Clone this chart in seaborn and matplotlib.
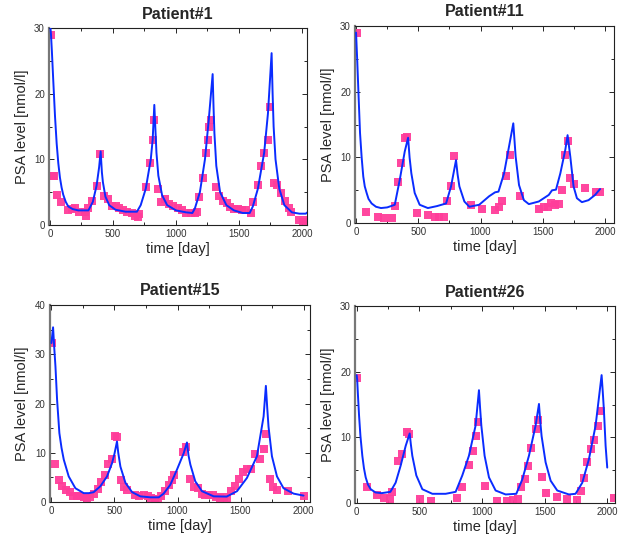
import matplotlib
matplotlib.use("Agg")
import matplotlib.pyplot as plt
from matplotlib.ticker import MultipleLocator
import seaborn as sns
import pandas as pd

# ---- Patient#1 ----
p1_day = [5, 20, 35, 58, 87, 145, 172, 198, 230, 278, 286, 304, 336, 370, 397,
          428, 458, 489, 521, 548, 577, 608, 648, 675, 698, 709, 759, 794, 815, 825,
          854, 881, 913, 947, 979, 1013, 1045, 1079, 1116, 1151, 1164, 1185, 1217,
          1238, 1257, 1265, 1275, 1315, 1344, 1370, 1402, 1429, 1463, 1489, 1521,
          1553, 1593, 1614, 1648, 1675, 1701, 1728, 1746, 1778, 1804, 1833, 1865,
          1897, 1913, 1976, 2011, 2037]
p1_psa = [29.0, 7.4, 7.4, 4.6, 3.5, 2.3, 2.4, 2.5, 1.9, 2.0, 1.3, 2.5, 3.7, 5.9, 10.8,
          4.4, 3.9, 2.9, 2.8, 2.6, 2.3, 1.9, 1.8, 1.4, 1.2, 1.6, 5.7, 9.4, 13.0, 16.0,
          5.4, 3.5, 3.9, 3.2, 2.8, 2.6, 2.2, 1.8, 1.8, 1.8, 2.0, 4.2, 7.1,
          11.0, 13.0, 15.0, 16.0, 5.8, 4.4, 3.6, 3.3, 2.7, 2.4, 2.4, 2.3,
          2.2, 1.8, 3.5, 6.0, 9.0, 11.0, 13.0, 18.0, 6.4, 6.0, 4.8, 3.7,
          2.5, 1.9, 0.8, 0.5, 0.8]
p1_fit_day = [0, 8, 15, 26, 40, 53, 66, 79, 92, 105, 125, 145, 180, 225, 305, 340, 370,
              390, 402, 412, 420, 440, 470, 520, 600, 690, 720, 760, 800, 815, 828, 838,
              845, 860, 890, 930, 1000, 1080, 1130, 1150, 1190, 1230, 1260, 1291,
              1298, 1305, 1320, 1350, 1400, 1460, 1530, 1585, 1610, 1650, 1700, 1730,
              1759, 1767, 1775, 1790, 1820, 1860, 1920, 1980, 2030, 2050]
p1_fit_psa = [31.0, 29.0, 26.5, 22.0, 16.5, 12.4, 9.4, 7.2, 5.7, 4.6, 3.5, 2.8, 2.4, 2.2,
              2.2, 3.5, 6.0, 8.8, 11.2, 8.0, 6.5, 4.3, 3.0, 2.3, 2.0, 2.0, 3.0, 5.5, 10.0,
              13.0, 18.3, 14.0, 11.0, 7.5, 4.5, 3.0, 2.2, 1.9, 1.8, 2.5, 5.0, 10.0, 16.0,
              23.0, 18.0, 14.0, 9.0, 5.0, 3.0, 2.2, 1.8, 1.8, 2.8, 5.5, 11.0, 17.0,
              26.2, 20.0, 15.0, 10.0, 5.5, 3.0, 1.9, 1.7, 1.7, 2.0]

# ---- Patient#11 ----
p11_day = [5, 80, 173, 226, 285, 311, 338, 364, 396, 412, 492, 577, 638, 670, 705,
           731, 763, 790, 923, 1008, 1117, 1149, 1176, 1202, 1234, 1316, 1468, 1508,
           1540, 1569, 1596, 1628, 1654, 1681, 1699, 1721, 1753, 1835, 1928, 1960]
p11_psa = [28.9, 1.7, 1.0, 0.8, 0.8, 2.6, 6.2, 9.1, 12.9, 13.1, 1.5, 1.2, 0.9, 0.9, 1.0,
           3.3, 5.7, 10.2, 2.8, 2.2, 2.0, 2.4, 3.3, 7.2, 10.4, 4.1, 2.2, 2.4,
           2.5, 3.0, 2.8, 2.9, 5.1, 10.4, 12.5, 6.8, 6.0, 5.3, 4.7, 4.7]
p11_fit_day = [0, 10, 21, 32, 45, 58, 70, 85, 100, 125, 160, 200, 250, 311, 351, 391,
               418, 430, 444, 471, 511, 577, 650, 723, 763, 803, 815, 830, 870, 910, 989,
               1069, 1117, 1144, 1189, 1229, 1263, 1282, 1309, 1348, 1388, 1468, 1548,
               1574, 1606, 1641, 1681, 1699, 1721, 1747, 1774, 1814, 1867, 1920, 1960]
p11_fit_psa = [29.0, 24.5, 19.0, 13.7, 10.0, 7.1, 5.6, 4.6, 3.7, 3.0, 2.5, 2.3, 2.4, 2.8,
               6.6, 10.9, 13.0, 10.0, 7.6, 4.6, 2.8, 2.3, 2.6, 3.0, 5.6, 9.6, 7.5, 5.6,
               3.3, 2.5, 2.8, 4.1, 4.7, 4.8, 7.6, 11.7, 15.2, 10.1, 5.8, 3.5, 2.9, 3.3,
               4.3, 5.0, 5.1, 7.6, 11.2, 13.4, 10.1, 5.6, 3.8, 3.2, 3.5, 4.3, 5.2]

# ---- Patient#15 ----
p15_day = [5, 32, 58, 87, 116, 145, 172, 201, 230, 256, 283, 309, 338, 367, 396, 423,
           452, 481, 507, 520, 550, 573, 602, 666, 698, 732, 764, 790, 819, 843, 872,
           901, 930, 956, 975, 1044, 1070, 1102, 1133, 1162, 1192, 1221, 1250, 1279,
           1308, 1337, 1366, 1392, 1424, 1453, 1485, 1516, 1551, 1585, 1617, 1657,
           1683, 1701, 1731, 1757, 1789, 1873, 2005]
p15_psa = [32.4, 7.8, 4.4, 3.2, 2.5, 2.0, 1.15, 1.3, 1.15, 0.95, 0.8, 0.95, 1.7, 2.7, 4.1, 5.5,
           7.8, 8.7, 13.5, 13.2, 4.4, 3.0, 2.4, 1.35, 1.3, 1.35, 1.15, 0.8, 0.7, 0.7, 1.3,
           2.2, 3.5, 4.5, 5.5, 10.1, 11.1, 4.7, 3.0, 2.8, 1.7, 1.5, 1.35, 1.5,
           0.95, 0.8, 0.95, 0.7, 2.3, 3.2, 4.7, 6.0, 6.7, 6.8, 9.8, 8.7,
           10.8, 13.9, 4.7, 3.0, 2.5, 2.2, 1.15]
p15_fit_day = [0, 13, 22, 32, 45, 63, 80, 98, 137, 190, 256, 296, 335, 388, 441, 481,
               500, 520, 530, 547, 587, 640, 705, 785, 851, 890, 943, 996, 1049, 1075,
               1087, 1102, 1141, 1194, 1287, 1390, 1472, 1551, 1630, 1683, 1701, 1712,
               1722, 1749, 1789, 1841, 1921, 2000]
p15_fit_psa = [32.3, 35.5, 31.5, 27.5, 20.7, 14.0, 11.0, 8.6, 5.2, 2.8, 1.8, 1.8, 2.0,
               3.2, 5.2, 7.9, 9.8, 12.3, 10.0, 7.2, 3.9, 2.0, 1.15, 0.95, 0.95, 1.7,
               3.5, 6.6, 9.9, 12.1, 9.5, 7.6, 4.2, 2.2, 1.15, 1.1, 2.2, 4.9, 9.3,
               17.4, 23.6, 19.0, 15.3, 9.3, 5.2, 2.8, 1.7, 1.3]

# ---- Patient#26 ----
p26_day = [5, 85, 165, 218, 263, 285, 332, 359, 399, 418, 505, 596, 803, 843, 896, 928,
           955, 971, 1021, 1117, 1202, 1250, 1287, 1314, 1340, 1370, 1394, 1428, 1450,
           1481, 1508, 1596, 1676, 1755, 1787, 1814, 1840, 1867, 1894, 1926, 1947, 2055]
p26_psa = [19.0, 2.5, 1.2, 0.75, 0.6, 1.6, 6.4, 7.5, 10.8, 10.5, 0.6, 0.25, 0.75, 2.5, 5.8, 8.0,
           10.2, 12.4, 2.6, 0.35, 0.25, 0.5, 0.6, 2.5, 3.6, 5.7, 8.4, 11.3, 12.7,
           4.0, 1.5, 0.85, 0.6, 0.5, 1.8, 3.8, 6.2, 8.2, 9.6, 11.8, 14.0, 0.8]
p26_fit_day = [0, 4, 10, 19, 30, 45, 58, 72, 90, 112, 150, 200, 269, 311, 351, 391, 423,
               432, 444, 476, 524, 604, 710, 790, 843, 896, 949, 976, 985, 995, 1021,
               1056, 1109, 1189, 1274, 1322, 1375, 1428, 1455, 1465, 1476, 1508, 1548,
               1601, 1694, 1747, 1801, 1854, 1907, 1955, 1964, 1973, 1987, 2000]
p26_fit_psa = [19.5, 18.8, 16.5, 13.3, 10.2, 7.2, 5.3, 3.9, 2.8, 2.1, 1.6, 1.5, 1.7, 3.1,
               5.7, 8.7, 10.6, 9.0, 7.2, 4.2, 2.1, 1.4, 1.4, 1.7, 4.2, 7.2, 11.8, 17.2,
               14.5, 11.8, 7.2, 3.9, 1.9, 1.3, 1.4, 3.6, 7.2, 11.8, 15.1, 12.5, 10.2, 6.2,
               3.4, 1.9, 1.3, 1.4, 3.1, 6.7, 11.8, 19.5, 17.0, 14.3, 8.7, 5.4]

titles = ["Patient#1", "Patient#11", "Patient#15", "Patient#26"]
data_days = [p1_day, p11_day, p15_day, p26_day]
data_psa = [p1_psa, p11_psa, p15_psa, p26_psa]
fit_days = [p1_fit_day, p11_fit_day, p15_fit_day, p26_fit_day]
fit_psa = [p1_fit_psa, p11_fit_psa, p15_fit_psa, p26_fit_psa]
y_max = [30, 30, 40, 30]
x_lims = [(-8, 2040), (-8, 2072), (-12, 2052), (-13, 2064)]

# положение осей в долях фигуры
positions = [
    [0.0785, 0.586, 0.4135, 0.362],
    [0.569, 0.589, 0.415, 0.363],
    [0.080, 0.0755, 0.417, 0.3625],
    [0.569, 0.0737, 0.417, 0.3623],
]

sns.set_style("ticks")
plt.rcParams['font.family'] = ['Liberation Sans', 'DejaVu Sans']

fig = plt.figure(figsize=(6.24, 5.43), dpi=100)

for i in range(4):
    ax = fig.add_axes(positions[i])
    df_pts = pd.DataFrame({"day": data_days[i], "psa": data_psa[i]})
    df_fit = pd.DataFrame({"day": fit_days[i], "psa": fit_psa[i]})

    sns.lineplot(data=df_fit, x="day", y="psa", ax=ax, color="#0a2cff",
                 linewidth=1.4, sort=False, zorder=3)
    sns.scatterplot(data=df_pts, x="day", y="psa", ax=ax, color="#ff3d9a",
                    marker="s", s=28, linewidth=0, alpha=0.95, zorder=2)

    ax.set_xlim(*x_lims[i])
    ax.set_ylim(0, y_max[i])
    ax.xaxis.set_major_locator(MultipleLocator(500))
    ax.xaxis.set_minor_locator(MultipleLocator(250))
    ax.yaxis.set_major_locator(MultipleLocator(10))
    ax.yaxis.set_minor_locator(MultipleLocator(5))
    ax.tick_params(which="both", direction="in", top=True, right=True,
                   labelsize=7, labelcolor="#333333", pad=3, width=0.7)
    ax.tick_params(which="major", length=3.5)
    ax.tick_params(which="minor", length=2)
    for side in ["top", "right", "bottom"]:
        ax.spines[side].set_linewidth(0.8)
        ax.spines[side].set_color("#222222")
    ax.spines["left"].set_linewidth(1.6)
    ax.spines["left"].set_color("#777777")

    ax.set_title(titles[i], fontsize=11.5, fontweight="bold", pad=7)
    ax.set_xlabel("time [day]", fontsize=10.5, labelpad=2)
    ax.set_ylabel("PSA level [nmol/l]", fontsize=10.5, labelpad=4)

plt.savefig("out.png", dpi=100)
